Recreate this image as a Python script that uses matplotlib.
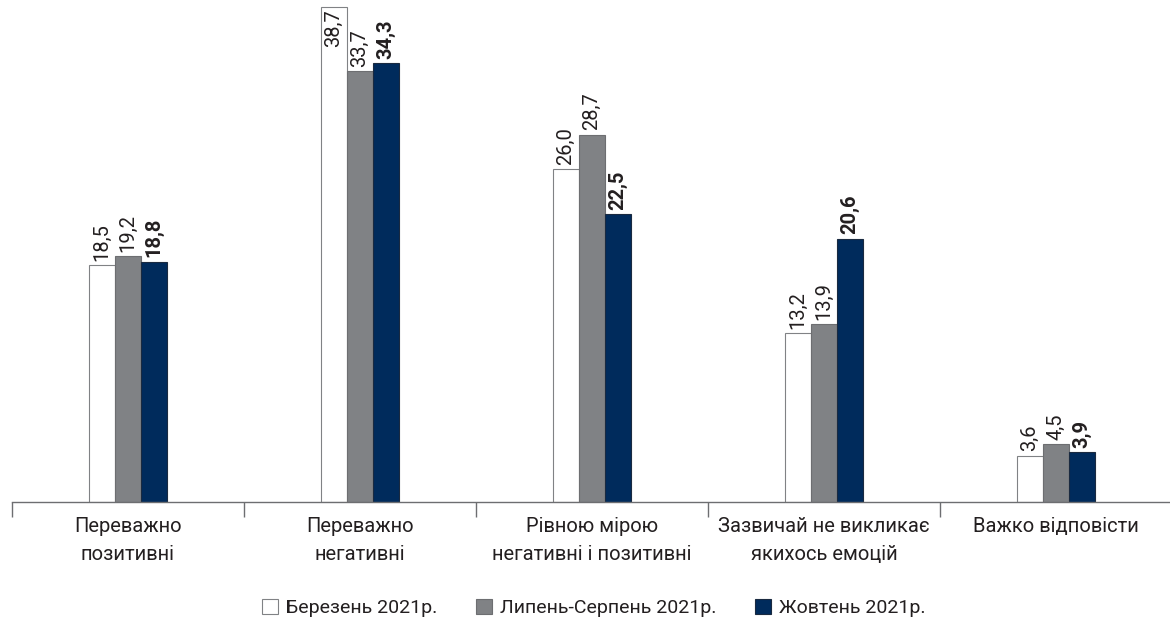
import matplotlib
matplotlib.use("Agg")
import matplotlib.pyplot as plt
import numpy as np
from matplotlib.patches import Patch

plt.rcParams['font.family'] = ['Roboto', 'DejaVu Sans']

categories = ["Переважно\nпозитивні", "Переважно\nнегативні", "Рівною мірою\nнегативні і позитивні",
              "Зазвичай не викликає\nякихось емоцій", "Важко відповісти"]
series_names = ["Березень 2021р.", "Липень-Серпень 2021р.", "Жовтень 2021р."]
march = [18.5, 38.7, 26.0, 13.2, 3.6]
summer = [19.2, 33.7, 28.7, 13.9, 4.5]
october = [18.8, 34.3, 22.5, 20.6, 3.9]

colors = ["#ffffff", "#808285", "#002b5c"]
edges = ["#808285", "#6d6e71", "#1a2a40"]
bold = [False, False, True]

fig = plt.figure(figsize=(11.7, 6.26), dpi=100)
ax = fig.add_axes([12/1170, 124/626, 1160/1170, 502/626])

x = np.arange(len(categories))
w = 26/232
for i, vals in enumerate([march, summer, october]):
    xs = x + (i - 1) * w
    ax.bar(xs, vals, width=w, color=colors[i], edgecolor=edges[i], linewidth=0.8, zorder=2)
    for xv, v in zip(xs, vals):
        lab = f"{v:.1f}".replace(".", ",")
        fw = "bold" if bold[i] else "normal"
        if v > 38:
            # no room above the tallest bar, so label sits inside it
            ax.text(xv, v - 0.2, lab, rotation=90, ha="center", va="top", fontsize=14.5,
                    color="#231f20", fontweight=fw)
        else:
            ax.text(xv, v + 0.35, lab, rotation=90, ha="center", va="bottom", fontsize=14.5,
                    color="#231f20", fontweight=fw)

ax.set_xlim(-0.5, len(categories) - 0.5)
ax.set_ylim(0, 502/12.79)
for s in ["top", "right", "left"]:
    ax.spines[s].set_visible(False)
ax.spines["bottom"].set_color("#6d6e71")
ax.spines["bottom"].set_linewidth(1)
ax.set_yticks([])
ax.set_xticks(np.arange(len(categories) + 1) - 0.5)
ax.set_xticklabels([])
ax.tick_params(axis="x", direction="out", length=11, color="#6d6e71", width=1)
ax.set_xticks(x, minor=True)
ax.set_xticklabels(categories, minor=True, fontsize=14.5, color="#231f20", linespacing=1.6)
ax.tick_params(axis="x", which="minor", length=0, pad=11)

handles = [Patch(facecolor=colors[i], edgecolor=edges[i], linewidth=0.8) for i in range(3)]
fig.legend(handles, series_names, loc="center", bbox_to_anchor=(594/1170, 18/626), ncol=3, frameon=False,
           fontsize=14, handlelength=0.82, handleheight=0.82, handletextpad=0.4, columnspacing=2.0,
           labelcolor="#231f20")

fig.savefig("out.png", dpi=100)
